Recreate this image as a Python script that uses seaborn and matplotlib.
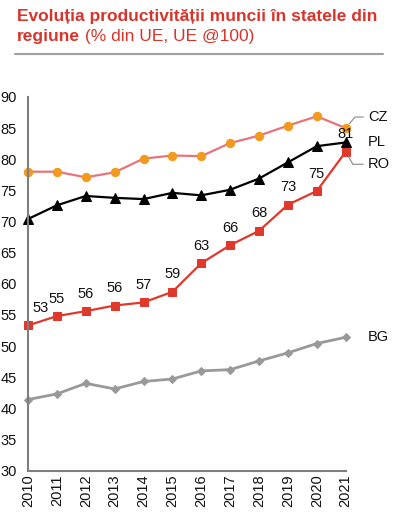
import matplotlib
matplotlib.use("Agg")
import matplotlib.pyplot as plt
import seaborn as sns
import pandas as pd
from matplotlib.lines import Line2D

years = list(range(2010, 2022))
cz = [78.0, 78.0, 77.1, 77.9, 80.1, 80.6, 80.5, 82.6, 83.8, 85.4, 86.9, 85.0]
pl = [70.4, 72.6, 74.1, 73.8, 73.6, 74.6, 74.2, 75.1, 76.9, 79.5, 82.1, 82.7]
ro = [53.3, 54.8, 55.6, 56.5, 57.0, 58.7, 63.3, 66.2, 68.5, 72.7, 74.9, 81.2]
bg = [41.4, 42.3, 44.0, 43.1, 44.3, 44.7, 46.0, 46.2, 47.6, 48.9, 50.4, 51.4]
ro_labels = ["53", "55", "56", "56", "57", "59", "63", "66", "68", "73", "75", "81"]
yticks = list(range(30, 95, 5))

sns.set_style("white")
plt.rcParams["font.family"] = ["Liberation Sans", "DejaVu Sans"]

fig = plt.figure(figsize=(3.93, 5.15), dpi=100)
ax = fig.add_axes([28 / 393, 1 - 470.5 / 515, (345.7 - 28) / 393, (470.5 - 97) / 515])

df = pd.DataFrame({"year": years, "CZ": cz, "PL": pl, "RO": ro, "BG": bg})

sns.lineplot(data=df, x="year", y="BG", ax=ax, color="#999999", lw=2,
             marker="D", markersize=4.5, markerfacecolor="#999999",
             markeredgecolor="#999999", clip_on=False)
sns.lineplot(data=df, x="year", y="CZ", ax=ax, color="#e8737a", lw=1.6,
             marker="o", markersize=6, markerfacecolor="#f39a1e",
             markeredgecolor="#f39a1e", clip_on=False)
sns.lineplot(data=df, x="year", y="PL", ax=ax, color="black", lw=1.6,
             marker="^", markersize=6.5, markerfacecolor="black",
             markeredgecolor="black", clip_on=False)
sns.lineplot(data=df, x="year", y="RO", ax=ax, color="#e0392b", lw=1.6,
             marker="s", markersize=5.5, markerfacecolor="#e0392b",
             markeredgecolor="#e0392b", clip_on=False)

for i, (x, y, t) in enumerate(zip(years, ro, ro_labels)):
    dx = 9 if i == 0 else 0
    ax.annotate(t, xy=(x, y), xytext=(dx, 12.5), textcoords="offset points",
                ha="center", va="center", fontsize=10.5, color="#111111")

ax.set_xlim(2010, 2021)
ax.set_ylim(30, 90)
ax.set_yticks(yticks)
ax.set_xticks(years)
ax.set_xticklabels([str(y) for y in years], rotation=90)
ax.tick_params(axis="y", length=0, pad=8, labelsize=10.5, labelcolor="#111111")
ax.tick_params(axis="x", length=0, pad=3, labelsize=10.5, labelcolor="#111111")
ax.set_xlabel("")
ax.set_ylabel("")
for s in ["top", "right"]:
    ax.spines[s].set_visible(False)
for s in ["left", "bottom"]:
    ax.spines[s].set_color("#7f7f7f")
    ax.spines[s].set_linewidth(1.5)

# series labels on the right
ax.annotate("CZ", xy=(years[-1], cz[-1]), xytext=(16, 8), textcoords="offset points",
            ha="left", va="center", fontsize=10.5, color="#111111",
            arrowprops=dict(arrowstyle="-", color="#888888", lw=0.8,
                            connectionstyle="angle,angleA=0,angleB=50",
                            shrinkA=1, shrinkB=4))
ax.annotate("PL", xy=(years[-1], pl[-1]), xytext=(16, 0), textcoords="offset points",
            ha="left", va="center", fontsize=10.5, color="#111111")
ax.annotate("RO", xy=(years[-1], ro[-1]), xytext=(16, -9), textcoords="offset points",
            ha="left", va="center", fontsize=10.5, color="#111111",
            arrowprops=dict(arrowstyle="-", color="#888888", lw=0.8,
                            connectionstyle="angle,angleA=0,angleB=-60",
                            shrinkA=1, shrinkB=4))
ax.annotate("BG", xy=(years[-1], bg[-1]), xytext=(16, 0), textcoords="offset points",
            ha="left", va="center", fontsize=10.5, color="#111111")

# title
red = "#d9342b"
fig.text(17 / 393, 1 - 21 / 515, "Evoluția productivității muncii în statele din",
         fontsize=12.5, fontweight="bold", color=red, ha="left", va="baseline")
t2 = fig.text(17 / 393, 1 - 41 / 515, "regiune", fontsize=12.5, fontweight="bold",
              color=red, ha="left", va="baseline")
ax.annotate(" (% din UE, UE @100)", xy=(1, 0), xycoords=t2, fontsize=12.5,
            color=red, ha="left", va="bottom", annotation_clip=False)

fig.add_artist(Line2D([15 / 393, 383 / 393], [1 - 54 / 515, 1 - 54 / 515],
                      color="#a0a0a0", lw=1.5, transform=fig.transFigure))

fig.savefig("out.png", dpi=100)
